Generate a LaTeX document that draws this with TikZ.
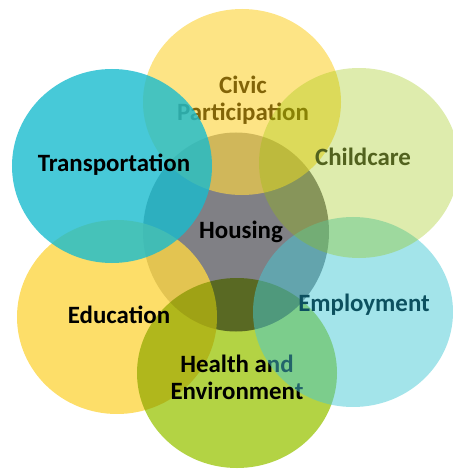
\documentclass[tikz,border=0pt]{standalone}
\usepackage{fontspec}
\setmainfont{Carlito}
\usetikzlibrary{shapes.geometric}
\definecolor{housingfill}{RGB}{128,128,133}
\definecolor{yellowfill}{RGB}{252,214,68}
\definecolor{greenfill}{RGB}{179,211,68}
\definecolor{limefill}{RGB}{151,195,0}
\definecolor{tealfill}{RGB}{25,187,206}
\definecolor{skyfill}{RGB}{71,201,213}
\definecolor{civictext}{RGB}{130,100,8}
\definecolor{childtext}{RGB}{82,98,30}
\definecolor{emptext}{RGB}{12,80,95}
\tikzset{
  bubble/.style={ellipse,inner sep=0pt,minimum width=200bp,minimum height=194bp},
  bubbletext/.style={font=\bfseries\fontsize{25}{27}\selectfont,align=center,inner sep=0pt}
}

\begin{document}
\begin{tikzpicture}[x=1bp,y=-1bp]
  \clip (0,0) rectangle (453,469);

  % centre
  \node[bubble,fill=housingfill,minimum width=186bp,minimum height=199bp] (housing) at (236,232) {};
  \node[bubbletext,anchor=base] (housingtxt) at (241,238) {Housing};

  % lower left and bottom
  \node[bubble,fill=yellowfill,fill opacity=0.8] (education) at (117,317) {};
  \node[bubbletext,anchor=base] (educationtxt) at (119,323) {Education};
  \node[bubble,fill=greenfill,blend mode=multiply,minimum height=190bp] (health) at (237,373) {};
  \node[bubbletext] (healthtxt) at (237,377) {Health and\\Environment};

  % top
  \node[bubble,fill=yellowfill,fill opacity=0.65,minimum width=198bp,minimum height=186bp] (civic) at (242,102) {};
  \node[bubbletext,text=civictext] (civictxt) at (243,100) {Civic\\Participation};

  % right side
  \node[bubble,fill=skyfill,fill opacity=0.5,minimum height=190bp] (employment) at (353,312) {};
  \node[bubbletext,text=emptext,anchor=base] (employmenttxt) at (364,311) {Employment};
  \node[bubble,fill=limefill,fill opacity=0.32,minimum height=190bp] (childcare) at (359,163) {};
  \node[bubbletext,text=childtext,anchor=base] (childcaretxt) at (363,166) {Childcare};

  % upper left
  \node[bubble,fill=tealfill,fill opacity=0.8] (transport) at (112,166) {};
  \node[bubbletext,anchor=base] (transporttxt) at (114,172) {Transportation};
\end{tikzpicture}
\end{document}
